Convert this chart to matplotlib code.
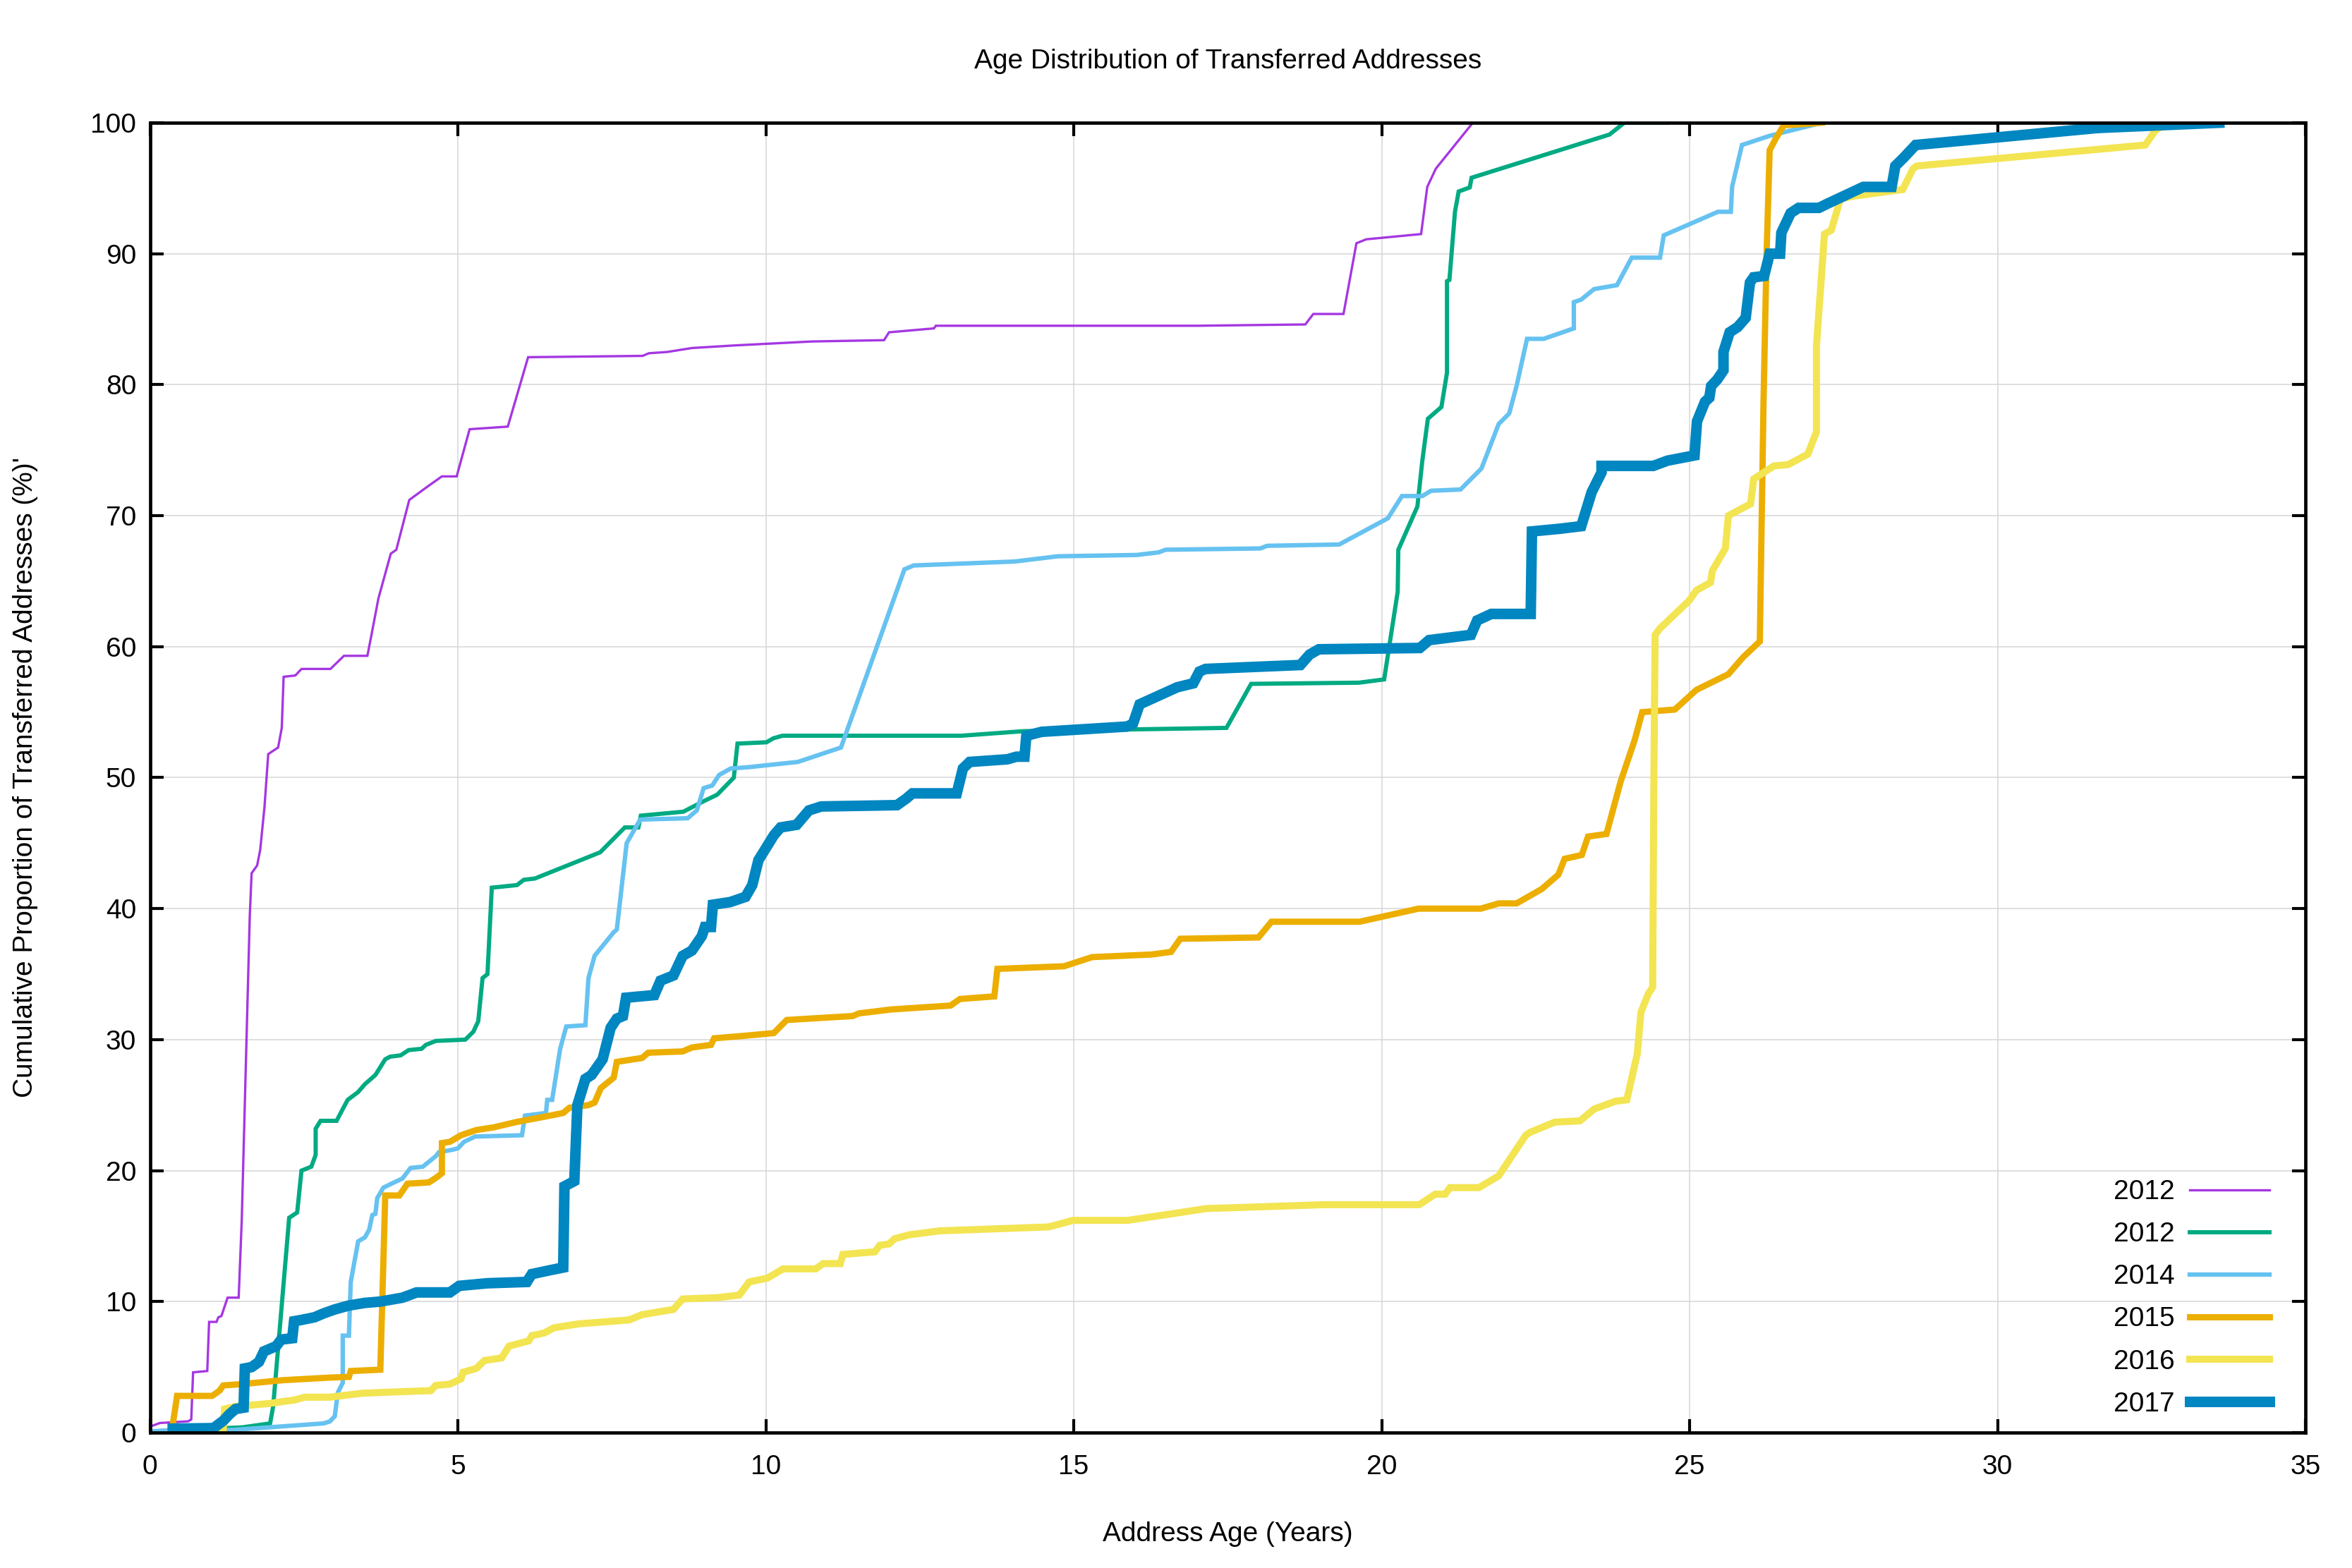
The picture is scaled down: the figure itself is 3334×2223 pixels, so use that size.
import matplotlib
matplotlib.use('Agg')
import matplotlib.pyplot as plt

plt.rcParams['font.family'] = ['Liberation Sans', 'DejaVu Sans']
plt.rcParams['font.size'] = 14

# cumulative share of transferred addresses (%) vs address age (years), one curve per year
labels = ['2012', '2012', '2014', '2015', '2016', '2017']
colors = ['#a537e1', '#00aa82', '#66c2f0', '#ecae00', '#f3e452', '#0086c0']
widths = [1.2, 2.15, 2.25, 3.2, 3.6, 5.4]

age_2012a = [0.0, 0.01, 0.16, 0.62, 0.67, 0.70, 0.93, 0.96, 1.08, 1.11, 1.16, 1.26, 1.44, 1.49,
             1.62, 1.65, 1.74, 1.79, 1.86, 1.92, 2.08, 2.14, 2.17, 2.36, 2.46, 2.93, 3.15, 3.53,
             3.58, 3.71, 3.91, 4.0, 4.21, 4.5, 4.74, 4.98, 5.19, 5.81, 6.14, 8.0, 8.1, 8.4, 8.8,
             9.5, 10.75, 11.92, 12.0, 12.73, 12.76, 17.0, 18.76, 18.89, 19.38, 19.59, 19.75,
             20.64, 20.74, 20.88, 21.48]
pct_2012a = [0.0, 0.47, 0.73, 0.86, 1.0, 4.6, 4.7, 8.45, 8.45, 8.8, 8.9, 10.3, 10.3, 16.2,
             39.4, 42.7, 43.3, 44.5, 47.8, 51.8, 52.3, 53.8, 57.7, 57.8, 58.3, 58.3, 59.3, 59.3,
             60.5, 63.7, 67.1, 67.4, 71.2, 72.2, 73.0, 73.0, 76.6, 76.8, 82.1, 82.2, 82.4, 82.5,
             82.8, 83.0, 83.3, 83.4, 84.0, 84.3, 84.5, 84.5, 84.6, 85.4, 85.4, 90.8, 91.1, 91.5,
             95.1, 96.5, 100.0]

age_2012b = [0.0, 0.5, 1.5, 1.95, 2.0, 2.26, 2.39, 2.46, 2.62, 2.69, 2.69, 2.77, 3.03, 3.13,
             3.21, 3.38, 3.49, 3.66, 3.82, 3.9, 4.07, 4.2, 4.41, 4.48, 4.64, 5.12, 5.25, 5.33,
             5.4, 5.48, 5.55, 5.96, 6.07, 6.25, 7.31, 7.71, 7.93, 7.97, 8.66, 8.99, 9.21, 9.48,
             9.54, 10.01, 10.12, 10.27, 13.17, 14.19, 17.48, 17.88, 19.63, 20.04, 20.26, 20.27,
             20.58, 20.66, 20.75, 20.97, 21.06, 21.06, 21.1, 21.19, 21.25, 21.43, 21.46, 23.7,
             23.94, 24.64]
pct_2012b = [0.0, 0.2, 0.4, 0.7, 2.0, 16.4, 16.8, 20.0, 20.3, 21.2, 23.2, 23.8, 23.8, 24.7,
             25.4, 26.0, 26.6, 27.3, 28.5, 28.7, 28.8, 29.2, 29.3, 29.6, 29.9, 30.0, 30.6, 31.4,
             34.7, 35.0, 41.6, 41.8, 42.2, 42.3, 44.3, 46.2, 46.2, 47.1, 47.4, 48.2, 48.7, 50.0,
             52.6, 52.7, 53.0, 53.2, 53.2, 53.55, 53.8, 57.16, 57.25, 57.5, 64.2, 67.4,
             70.7, 74.2, 77.4, 78.3, 80.9, 87.9, 88.0, 93.2, 94.75, 95.06, 95.8, 99.1,
             100.0, 100.0]

age_2014 = [0.0, 0.01, 0.37, 1.34, 2.82, 2.92, 3.0, 3.05, 3.13, 3.13, 3.23, 3.26, 3.38, 3.49,
            3.56, 3.61, 3.66, 3.69, 3.79, 3.92, 4.1, 4.23, 4.43, 4.64, 4.69, 4.92, 5.0, 5.1,
            5.28, 6.04, 6.09, 6.43, 6.45, 6.53, 6.66, 6.76, 7.07, 7.12, 7.22, 7.53, 7.58, 7.74,
            7.96, 8.73, 8.88, 8.99, 9.13, 9.24, 9.43, 9.72, 10.52, 11.22, 12.25, 12.4, 14.04,
            14.74, 16.02, 16.38, 16.49, 18.03, 18.14, 19.31, 20.1, 20.33, 20.66, 20.8, 21.28,
            21.62, 21.9, 22.07, 22.19, 22.36, 22.63, 23.12, 23.12, 23.24, 23.45, 23.82, 24.06,
            24.52, 24.58, 25.46, 25.67, 25.69, 25.85, 26.3, 27.15]
pct_2014 = [0.0, 0.09, 0.2, 0.2, 0.7, 0.85, 1.24, 3.05, 3.8, 7.4, 7.4, 11.5, 14.6, 14.9,
            15.5, 16.6, 16.7, 17.9, 18.7, 19.0, 19.4, 20.2, 20.3, 21.1, 21.4, 21.6, 21.7, 22.2,
            22.6, 22.7, 24.2, 24.4, 25.4, 25.4, 29.3, 31.0, 31.1, 34.7, 36.4, 38.2, 38.4, 45.0,
            46.8, 46.9, 47.5, 49.2, 49.4, 50.2, 50.7, 50.8, 51.2, 52.3, 65.9, 66.2, 66.5,
            66.9, 67.0, 67.2, 67.4, 67.5, 67.7, 67.8, 69.8, 71.5, 71.5, 71.9, 72.0,
            73.6, 77.0, 77.8, 79.9, 83.5, 83.5, 84.3, 86.3, 86.5, 87.3, 87.6, 89.7,
            89.7, 91.4, 93.2, 93.2, 95.1, 98.3, 99.0, 100.0]

age_2015 = [0.35, 0.44, 1.01, 1.13, 1.19, 1.49, 2.16, 2.93, 3.23, 3.26, 3.74, 3.82, 4.05, 4.18,
            4.53, 4.66, 4.74, 4.74, 4.87, 5.05, 5.3, 5.58, 5.94, 6.5, 6.71, 6.81, 7.12, 7.22,
            7.32, 7.53, 7.58, 7.99, 8.09, 8.65, 8.8, 9.11, 9.16, 9.67, 10.13, 10.34, 11.41,
            11.51, 12.03, 13.0, 13.15, 13.71, 13.76, 14.84, 15.3, 16.27, 16.58, 16.73, 18.0,
            18.21, 19.64, 20.6, 21.61, 21.9, 22.19, 22.6, 22.87, 22.97, 23.25, 23.35, 23.65,
            23.88, 24.11, 24.23, 24.76, 25.11, 25.63, 25.87, 26.14, 26.2, 26.25, 26.3, 26.4,
            26.53, 27.15]
pct_2015 = [0.0, 2.8, 2.8, 3.2, 3.6, 3.7, 4.0, 4.2, 4.25, 4.7, 4.8, 18.1, 18.1, 19.0,
            19.1, 19.5, 19.8, 22.1, 22.2, 22.7, 23.1, 23.3, 23.7, 24.2, 24.4, 24.8, 25.0, 25.2,
            26.3, 27.1, 28.3, 28.6, 29.0, 29.1, 29.4, 29.6, 30.1, 30.3, 30.5, 31.5, 31.8,
            32.0, 32.3, 32.6, 33.1, 33.3, 35.4, 35.6, 36.3, 36.5, 36.7, 37.7, 37.8,
            39.0, 39.0, 40.0, 40.0, 40.4, 40.4, 41.5, 42.6, 43.8, 44.1, 45.5, 45.7,
            49.7, 52.9, 55.0, 55.2, 56.7, 57.9, 59.2, 60.4, 78.6, 90.0, 97.9, 98.8,
            99.8, 100.0]

age_2016 = [0.86, 1.19, 1.21, 1.39, 1.9, 2.36, 2.51, 2.92, 3.44, 3.95, 4.56, 4.64, 4.87, 5.05,
            5.08, 5.3, 5.43, 5.71, 5.83, 6.15, 6.2, 6.4, 6.56, 6.96, 7.78, 7.99, 8.24, 8.5,
            8.65, 9.21, 9.57, 9.73, 10.03, 10.28, 10.81, 10.93, 11.21, 11.25, 11.77, 11.85,
            12.0, 12.09, 12.33, 12.82, 14.59, 14.99, 15.87, 16.59, 17.15, 19.08, 20.61, 20.87,
            21.03, 21.11, 21.58, 21.9, 22.34, 22.4, 22.81, 23.22, 23.45, 23.8, 23.98, 24.15,
            24.21, 24.33, 24.4, 24.42, 24.44, 24.52, 24.99, 25.11, 25.34, 25.37, 25.58, 25.63,
            25.99, 26.04, 26.37, 26.6, 26.92, 27.06, 27.06, 27.19, 27.3, 27.45, 27.67, 28.46,
            28.63, 28.69, 32.4, 32.56, 32.73, 33.0]
pct_2016 = [0.0, 0.2, 1.8, 2.0, 2.2, 2.5, 2.7, 2.7, 3.0, 3.1, 3.2, 3.6, 3.7, 4.1,
            4.6, 4.9, 5.5, 5.7, 6.6, 7.0, 7.4, 7.6, 8.0, 8.3, 8.6, 9.0, 9.2, 9.4,
            10.2, 10.3, 10.5, 11.5, 11.8, 12.5, 12.5, 12.9, 12.9, 13.6, 13.8, 14.3,
            14.4, 14.8, 15.1, 15.4, 15.7, 16.2, 16.2, 16.7, 17.1, 17.4, 17.4, 18.2,
            18.2, 18.7, 18.7, 19.6, 22.7, 22.9, 23.7, 23.8, 24.7, 25.3, 25.4, 28.9,
            32.1, 33.5, 34.0, 50.0, 60.9, 61.4, 63.5, 64.3, 64.9, 65.8, 67.5, 70.0,
            70.9, 72.8, 73.8, 73.9, 74.7, 76.4, 83.0, 91.5, 91.8, 94.2, 94.4, 94.9,
            96.5, 96.7, 98.3, 99.4, 99.9, 100.0]

age_2017 = [0.37, 1.03, 1.19, 1.29, 1.39, 1.52, 1.54, 1.65, 1.77, 1.85, 1.95, 2.05, 2.13, 2.31,
            2.34, 2.46, 2.67, 2.82, 3.0, 3.23, 3.49, 3.74, 4.1, 4.33, 4.87, 5.02, 5.48, 6.12,
            6.2, 6.5, 6.71, 6.73, 6.89, 6.94, 7.07, 7.17, 7.35, 7.48, 7.58, 7.68, 7.73, 8.19,
            8.29, 8.5, 8.65, 8.8, 8.96, 9.01, 9.11, 9.14, 9.42, 9.67, 9.78, 9.88, 10.13, 10.24,
            10.5, 10.7, 10.9, 12.13, 12.28, 12.38, 13.1, 13.2, 13.31, 13.92, 14.07, 14.2, 14.23,
            14.48, 15.86, 15.96, 16.07, 16.68, 16.94, 17.04, 17.14, 18.68, 18.83, 18.98, 20.62,
            20.77, 21.45, 21.55, 21.78, 22.42, 22.44, 22.89, 23.24, 23.41, 23.57, 23.57, 24.41,
            24.64, 25.08, 25.12, 25.25, 25.32, 25.35, 25.45, 25.55, 25.55, 25.65, 25.78, 25.91,
            25.98, 26.04, 26.21, 26.3, 26.47, 26.49, 26.64, 26.77, 27.1, 27.23, 27.82, 28.28,
            28.34, 28.47, 28.67, 31.63, 33.6]
pct_2017 = [0.3, 0.34, 0.9, 1.4, 1.8, 1.9, 4.9, 5.0, 5.4, 6.2, 6.4, 6.6, 7.1, 7.2,
            8.5, 8.6, 8.8, 9.1, 9.4, 9.7, 9.9, 10.0, 10.3, 10.7, 10.7, 11.2, 11.4, 11.5,
            12.1, 12.4, 12.6, 18.8, 19.2, 25.0, 27.0, 27.3, 28.5, 30.9, 31.6, 31.8, 33.2, 33.4,
            34.5, 34.9, 36.4, 36.8, 37.9, 38.6, 38.6, 40.3, 40.5, 40.9, 41.8, 43.7, 45.6, 46.2,
            46.4, 47.5, 47.8, 47.9, 48.4, 48.8, 48.8, 50.7, 51.2, 51.4, 51.6, 51.6, 53.2,
            53.5, 53.9, 54.1, 55.6, 56.9, 57.2, 58.1, 58.3, 58.6, 59.4, 59.8, 59.9,
            60.5, 60.9, 62.0, 62.5, 62.5, 68.8, 69.0, 69.2, 71.8, 73.3, 73.8, 73.8,
            74.2, 74.6, 77.2, 78.7, 79.0, 79.9, 80.4, 81.1, 82.5, 84.0, 84.4, 85.1,
            87.8, 88.2, 88.3, 90.0, 90.0, 91.6, 93.1, 93.5, 93.5, 93.8, 95.1, 95.1,
            96.7, 97.3, 98.3, 99.6, 100.0]

ages = [age_2012a, age_2012b, age_2014, age_2015, age_2016, age_2017]
pcts = [pct_2012a, pct_2012b, pct_2014, pct_2015, pct_2016, pct_2017]

fig = plt.figure(figsize=(3334 / 200, 2223 / 200), dpi=200)
ax = fig.add_axes([0.06377, 0.08637, 0.91644, 0.83536])

for x, y, lab, c, w in zip(ages, pcts, labels, colors, widths):
    ax.plot(x, y, color=c, lw=w, label=lab, solid_joinstyle='miter')

ax.set_xlim(0, 35)
ax.set_ylim(0, 100)
ax.set_xticks(range(0, 36, 5))
ax.set_yticks(range(0, 101, 10))
ax.grid(True, color='#d6d6d6', lw=0.55)
ax.set_axisbelow(True)
ax.tick_params(direction='in', top=True, right=True, length=6.8, width=1.5,
               labelsize=14, colors='black')
ax.tick_params(axis='x', pad=11)
ax.tick_params(axis='y', pad=7)
for s in ax.spines.values():
    s.set_linewidth(1.7)

ax.set_title('Age Distribution of Transferred Addresses', fontsize=14, y=1.047, pad=0, va='center')
ax.set_xlabel('Address Age (Years)', fontsize=14, va='center')
ax.xaxis.set_label_coords(0.5, -0.0775)
ax.set_ylabel("Cumulative Proportion of Transferred Addresses (%)'", fontsize=14, va='center')
ax.yaxis.set_label_coords(-0.0578, 0.5)

ax.legend(loc='lower right', bbox_to_anchor=(0.9833, 0.012), frameon=False, markerfirst=False,
          fontsize=14, handlelength=2.9, handletextpad=0.55, labelspacing=0.62,
          borderpad=0, borderaxespad=0)

fig.savefig('out.png', dpi=200)
